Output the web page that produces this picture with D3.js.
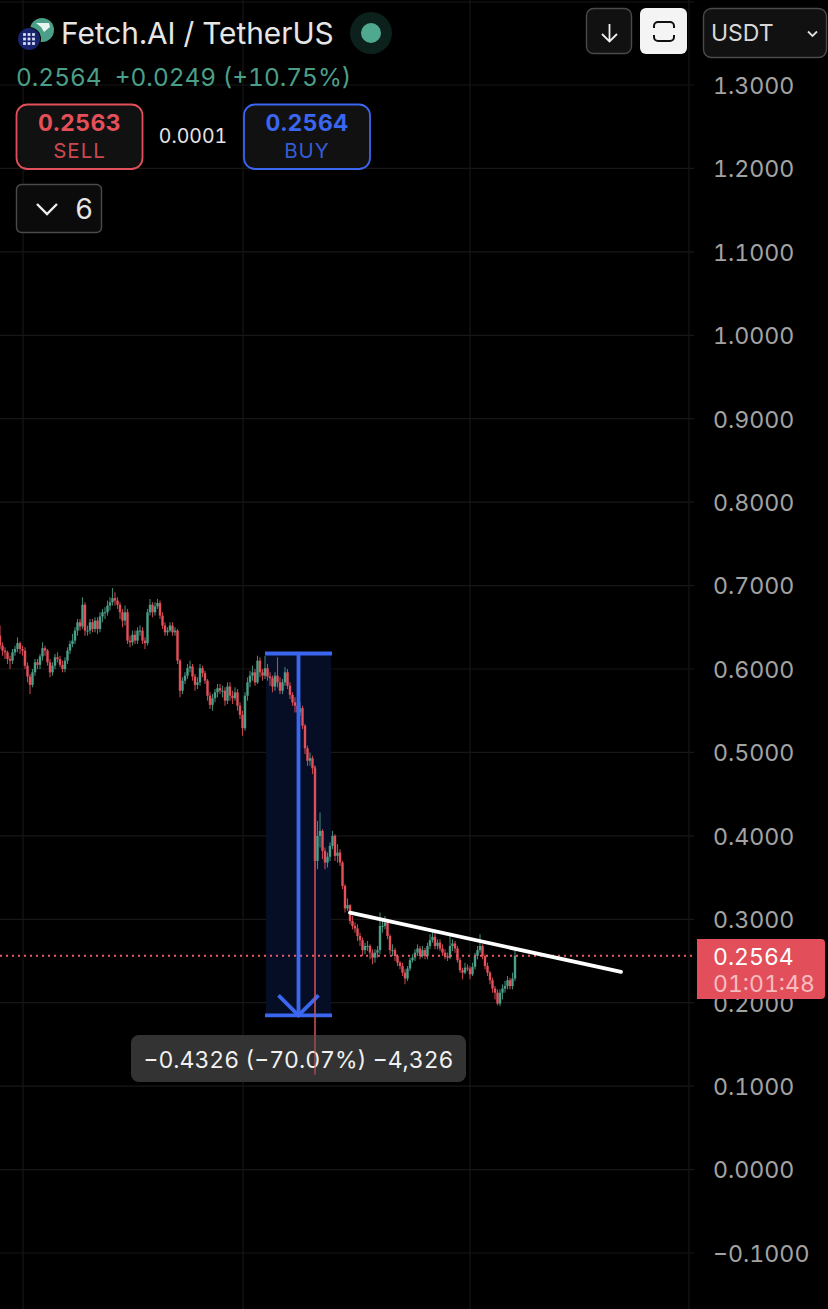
<!DOCTYPE html>
<html>
<head>
<meta charset="utf-8">
<script src="https://cdn.jsdelivr.net/npm/d3@7"></script>
<style>
  html, body { margin: 0; padding: 0; background: #000; }
  svg { display: block; }
  text { font-family: Inter, "Noto Sans", sans-serif; font-variant-numeric: tabular-nums; }
  .axis .domain, .axis line { display: none; }
</style>
</head>
<body>
<div id="chart"></div>
<script>
const opens = [
  .640,.628,.622,.620,.612,.610,.620,.624,.631,.624,
  .622,.604,.591,.581,.596,.608,.605,.615,.625,.622,
  .608,.596,.604,.614,.612,.605,.600,.610,.622,.630,
  .634,.646,.656,.651,.677,.646,.646,.656,.648,.658,
  .648,.663,.668,.668,.676,.680,.685,.682,.677,.668,
  .658,.668,.634,.632,.641,.634,.646,.646,.634,.631,
  .668,.677,.668,.675,.679,.664,.652,.644,.646,.652,
  .644,.646,.610,.574,.586,.592,.601,.603,.591,.581,
  .584,.601,.595,.586,.568,.557,.565,.572,.577,.574,
  .574,.562,.579,.568,.565,.572,.556,.545,.529,.568,
  .584,.592,.596,.584,.610,.596,.592,.601,.591,.589,
  .579,.592,.584,.574,.584,.596,.580,.569,.560,.556,
  .548,.553,.532,.505,.490,.493,.481,.370,.400,.406,
  .382,.368,.375,.388,.400,.376,.380,.368,.340,.313,
  .317,.298,.292,.289,.280,.275,.263,.268,.268,.260,
  .254,.260,.263,.292,.292,.296,.280,.263,.263,.256,
  .248,.244,.236,.229,.241,.251,.254,.260,.265,.256,
  .263,.256,.268,.275,.279,.268,.272,.265,.260,.256,
  .254,.268,.271,.265,.251,.239,.236,.242,.241,.234,
  .243,.256,.263,.268,.256,.244,.236,.227,.217,.212,
  .199,.212,.217,.220,.227,.220,.229
];
const highs = [
  .652,.632,.626,.622,.616,.624,.628,.638,.633,.628,
  .626,.608,.594,.600,.612,.612,.618,.632,.628,.624,
  .612,.608,.618,.620,.616,.610,.614,.626,.634,.642,
  .650,.660,.660,.686,.680,.652,.660,.660,.662,.662,
  .668,.672,.674,.682,.686,.697,.692,.686,.680,.672,
  .676,.672,.640,.646,.646,.650,.652,.650,.638,.672,
  .684,.680,.680,.684,.682,.668,.656,.650,.656,.656,
  .650,.648,.612,.590,.596,.606,.610,.606,.594,.590,
  .606,.604,.598,.588,.572,.570,.576,.582,.582,.580,
  .578,.584,.584,.574,.578,.576,.560,.550,.572,.590,
  .598,.604,.600,.616,.614,.600,.616,.606,.596,.592,
  .596,.614,.590,.588,.602,.600,.584,.572,.566,.560,
  .560,.556,.534,.508,.500,.496,.484,.418,.428,.408,
  .386,.380,.392,.406,.402,.390,.384,.370,.342,.325,
  .318,.304,.296,.294,.284,.278,.272,.274,.270,.264,
  .264,.268,.308,.300,.304,.298,.282,.270,.266,.258,
  .250,.248,.240,.244,.254,.258,.264,.270,.268,.268,
  .266,.272,.282,.286,.284,.276,.276,.270,.264,.260,
  .284,.276,.274,.268,.254,.242,.248,.246,.244,.248,
  .260,.268,.282,.270,.258,.248,.238,.230,.220,.216,
  .216,.222,.226,.232,.230,.236,.266
];
const lows = [
  .624,.616,.612,.606,.600,.606,.616,.620,.618,.616,
  .600,.584,.570,.578,.592,.600,.600,.610,.616,.604,
  .590,.592,.600,.608,.602,.596,.596,.606,.618,.626,
  .630,.640,.646,.648,.640,.640,.642,.644,.644,.642,
  .644,.656,.660,.664,.670,.676,.676,.672,.660,.650,
  .652,.630,.626,.628,.630,.630,.640,.630,.624,.628,
  .664,.662,.664,.672,.660,.648,.640,.640,.644,.640,
  .640,.606,.566,.570,.582,.588,.596,.586,.574,.576,
  .580,.590,.582,.562,.552,.550,.560,.566,.570,.566,
  .556,.558,.562,.558,.562,.550,.540,.520,.526,.562,
  .578,.586,.580,.582,.590,.586,.588,.586,.580,.572,
  .574,.578,.570,.570,.580,.576,.564,.556,.548,.542,
  .544,.528,.498,.484,.484,.474,.114,.360,.386,.372,
  .360,.362,.370,.384,.370,.368,.364,.336,.308,.310,
  .294,.288,.284,.274,.268,.256,.258,.262,.252,.246,
  .248,.254,.258,.284,.288,.276,.258,.256,.250,.244,
  .240,.232,.222,.226,.238,.248,.250,.256,.252,.254,
  .252,.252,.264,.272,.264,.264,.262,.256,.252,.250,
  .252,.262,.260,.248,.236,.228,.234,.238,.228,.232,
  .240,.252,.260,.252,.240,.232,.222,.212,.204,.197,
  .196,.204,.212,.216,.216,.216,.226
];
const closes = [
  .628,.622,.620,.612,.610,.620,.624,.631,.624,.622,
  .604,.591,.581,.596,.608,.605,.615,.625,.622,.608,
  .596,.604,.614,.612,.605,.600,.610,.622,.630,.634,
  .646,.656,.651,.677,.646,.646,.656,.648,.658,.648,
  .663,.668,.668,.676,.680,.685,.682,.677,.668,.658,
  .668,.634,.632,.641,.634,.646,.646,.634,.631,.668,
  .677,.668,.675,.679,.664,.652,.644,.646,.652,.644,
  .646,.610,.574,.586,.592,.601,.603,.591,.581,.584,
  .601,.595,.586,.568,.557,.565,.572,.577,.574,.574,
  .562,.579,.568,.565,.572,.556,.545,.529,.568,.584,
  .592,.596,.584,.610,.596,.592,.601,.591,.589,.579,
  .592,.584,.574,.584,.596,.580,.569,.560,.556,.548,
  .553,.532,.505,.490,.493,.481,.370,.400,.406,.382,
  .368,.375,.388,.400,.376,.380,.368,.340,.313,.317,
  .298,.292,.289,.280,.275,.263,.268,.268,.260,.254,
  .260,.263,.292,.292,.296,.280,.263,.263,.256,.248,
  .244,.236,.229,.241,.251,.254,.260,.265,.256,.263,
  .256,.268,.275,.279,.268,.272,.265,.260,.256,.254,
  .268,.271,.265,.251,.239,.236,.242,.241,.234,.243,
  .256,.263,.268,.256,.244,.236,.227,.217,.212,.199,
  .212,.217,.220,.227,.220,.229,.2564
];

const priceTicks = [1.3, 1.2, 1.1, 1.0, 0.9, 0.8, 0.7, 0.6, 0.5, 0.4, 0.3, 0.2, 0.1, 0.0, -0.1];
const timeGrid = [9.2, 97.2, 188];
const lastPrice = 0.2564;
const measureFrom = 0.6174;
const measureTo = 0.1848;
const measureBars = [106.4, 132.4];
const trendBars = [140, 248.4];
const trendPrices = [0.3079, 0.2370];

const red = "#e4505a", green = "#4b9e87", blue = "#3a66f0";

const svg = d3.select("#chart").append("svg")
  .attr("width", 828)
  .attr("height", 1309)
  .style("background", "#000");

const x = d3.scaleLinear().domain([0, 206]).range([0, 515]);
const y = d3.scaleLinear().domain([1.3, -0.1]).range([85, 1253]);

// ---- grid ----
const grid = svg.append("g").attr("stroke", "#171717").attr("stroke-width", 1.2);
grid.selectAll(".h").data(priceTicks).enter().append("line")
  .attr("x1", 0).attr("x2", 694)
  .attr("y1", d => y(d)).attr("y2", d => y(d));
grid.selectAll(".v").data(timeGrid).enter().append("line")
  .attr("x1", d => x(d)).attr("x2", d => x(d))
  .attr("y1", 0).attr("y2", 1309);
grid.append("line").attr("x1", 0).attr("x2", 694).attr("y1", 2).attr("y2", 2);
grid.append("line").attr("x1", 689).attr("x2", 689).attr("y1", 0).attr("y2", 1309);

// ---- measure box behind the candles ----
svg.append("rect")
  .attr("x", x(measureBars[0]))
  .attr("y", y(measureFrom))
  .attr("width", x(measureBars[1]) - x(measureBars[0]))
  .attr("height", y(measureTo) - y(measureFrom))
  .attr("fill", "#050e24");

// ---- candles ----
const bars = closes.map((c, i) => ({ i, o: opens[i], h: highs[i], l: lows[i], c }));
function drawCandles(group, data) {
  const color = d => d.c >= d.o ? green : red;
  group.selectAll(".wick").data(data).enter().append("line")
    .attr("x1", d => x(d.i)).attr("x2", d => x(d.i))
    .attr("y1", d => y(d.h)).attr("y2", d => y(d.l))
    .attr("stroke", color)
    .attr("stroke-opacity", 0.85)
    .attr("stroke-width", 1.1);
  group.selectAll(".body").data(data).enter().append("rect")
    .attr("x", d => x(d.i) - 1.2)
    .attr("y", d => Math.min(y(d.o), y(d.c)))
    .attr("width", 2.4)
    .attr("height", d => Math.max(1, Math.abs(y(d.o) - y(d.c))))
    .attr("fill", color);
}
drawCandles(svg.append("g").style("filter", "blur(0.35px)"), bars);

// ---- last price line ----
svg.append("line")
  .attr("x1", 0).attr("x2", 695)
  .attr("y1", y(lastPrice)).attr("y2", y(lastPrice))
  .attr("stroke", "#ee5a64")
  .attr("stroke-width", 2)
  .attr("stroke-dasharray", "2 4");

// ---- measure lines ----
const mx = d3.mean(measureBars);
const mg = svg.append("g").attr("stroke", blue).attr("stroke-width", 3.8).attr("fill", "none");
mg.append("line").attr("x1", x(measureBars[0]) - 1).attr("x2", x(measureBars[1]) + 1)
  .attr("y1", y(measureFrom) - 1).attr("y2", y(measureFrom) - 1);
mg.append("line").attr("x1", x(measureBars[0]) - 1).attr("x2", x(measureBars[1]) + 1)
  .attr("y1", y(measureTo)).attr("y2", y(measureTo));
mg.append("line").attr("x1", x(mx)).attr("x2", x(mx))
  .attr("y1", y(measureFrom)).attr("y2", y(measureTo));
mg.append("path")
  .attr("d", `M${x(mx) - 20},${y(measureTo) - 20}L${x(mx)},${y(measureTo)}L${x(mx) + 20},${y(measureTo) - 20}`);

// ---- trend line ----
svg.append("line")
  .attr("x1", x(trendBars[0])).attr("x2", x(trendBars[1]))
  .attr("y1", y(trendPrices[0])).attr("y2", y(trendPrices[1]))
  .attr("stroke", "#fff")
  .attr("stroke-width", 3.8)
  .attr("stroke-linecap", "round");

// ---- measure label ----
svg.append("rect")
  .attr("x", 131).attr("y", 1035).attr("width", 335).attr("height", 47).attr("rx", 8)
  .attr("fill", "#333");
svg.append("text")
  .attr("x", x(mx)).attr("y", 1067.5)
  .attr("text-anchor", "middle")
  .attr("font-size", 23)
  .attr("fill", "#f0f0f0")
  .text("\u22120.4326 (\u221270.07%) \u22124,326");

// the long wick sits over the label
const spike = bars.filter(d => d.l === d3.min(lows));
svg.append("g").selectAll("line").data(spike).enter().append("line")
  .attr("x1", d => x(d.i)).attr("x2", d => x(d.i))
  .attr("y1", d => y(d.h)).attr("y2", d => y(d.l))
  .attr("stroke", "#d0525c")
  .attr("stroke-width", 1.1);

// ---- price axis ----
const yAxis = d3.axisRight(y)
  .tickValues(priceTicks)
  .tickSize(0)
  .tickPadding(0)
  .tickFormat(d => d < 0 ? "\u2212" + Math.abs(d).toFixed(4) : d.toFixed(4));
const axisG = svg.append("g")
  .attr("class", "axis")
  .attr("transform", "translate(713,0)")
  .call(yAxis);
axisG.selectAll("text")
  .attr("text-anchor", "start")
  .attr("x", 0)
  .attr("dy", "0.36em")
  .style("font-family", "Inter, sans-serif")
  .style("font-size", "23.2px")
  .style("fill", "#a3a3a3");

// ---- last price tag ----
svg.append("path")
  .attr("d", "M697,939H821a4,4 0 0 1 4,4V995a4,4 0 0 1 -4,4H697Z")
  .attr("fill", "#e24f5a");
svg.append("text").attr("x", 713).attr("y", 965).attr("font-size", 23).attr("fill", "#fff").text("0.2564");
svg.append("text").attr("x", 713).attr("y", 992).attr("font-size", 23).attr("fill", "#f7bcc0").text("01:01:48");

// ---- header ----
const head = svg.append("g");
head.append("circle").attr("cx", 42).attr("cy", 30).attr("r", 12).attr("fill", "#4b9e87");
head.append("path").attr("d", "M36,23H49L50,27L44,32L41,27Z").attr("fill", "#e8f4f0");
head.append("circle").attr("cx", 29).attr("cy", 39).attr("r", 12).attr("fill", "#000");
head.append("circle").attr("cx", 29).attr("cy", 39).attr("r", 11).attr("fill", "#18246e");
head.selectAll(".dot").data(d3.cross([24.5, 29, 33.5], [34.5, 39, 43.5])).enter().append("rect")
  .attr("x", d => d[0] - 1.4).attr("y", d => d[1] - 1.4)
  .attr("width", 2.8).attr("height", 2.8)
  .attr("fill", "#d8dcf5");
head.append("text").attr("x", 61).attr("y", 44).attr("font-size", 29.8).attr("fill", "#e6e6e6").text("Fetch.AI / TetherUS");
head.append("circle").attr("cx", 371).attr("cy", 33).attr("r", 21).attr("fill", "#0d211c");
head.append("circle").attr("cx", 371).attr("cy", 33).attr("r", 10).attr("fill", "#4fa98f");
head.append("text").attr("x", 16).attr("y", 86).attr("font-size", 24.4).attr("fill", green)
  .attr("xml:space", "preserve").text("0.2564  +0.0249 (+10.75%)");

// ---- sell / buy ----
function tradeBox(bx, w, color, price, label) {
  const g = svg.append("g");
  g.append("rect").attr("x", bx).attr("y", 104.5).attr("width", w).attr("height", 64.5).attr("rx", 11)
    .attr("fill", "#111").attr("stroke", color).attr("stroke-width", 1.8);
  g.append("text").attr("x", bx + w / 2).attr("y", 131).attr("text-anchor", "middle")
    .attr("font-size", 23).attr("font-weight", 700).attr("letter-spacing", 0.4).attr("fill", color).text(price);
  g.append("text").attr("x", bx + w / 2).attr("y", 158).attr("text-anchor", "middle")
    .attr("font-size", 20.5).attr("letter-spacing", 1).attr("fill", color).attr("fill-opacity", 0.9).text(label);
}
tradeBox(16.5, 126, "#e4505a", "0.2563", "SELL");
tradeBox(244, 126, blue, "0.2564", "BUY");
svg.append("text").attr("x", 193).attr("y", 143).attr("text-anchor", "middle")
  .attr("font-size", 19.5).attr("fill", "#e6e6e6").text("0.0001");

// ---- collapsed indicators ----
svg.append("rect").attr("x", 16.5).attr("y", 184.5).attr("width", 85).attr("height", 48).attr("rx", 5)
  .attr("fill", "#0b0b0b").attr("stroke", "#4a4a4a").attr("stroke-width", 1.4);
svg.append("path").attr("d", "M37,204L47,214L57,204").attr("fill", "none")
  .attr("stroke", "#eee").attr("stroke-width", 2.4);
svg.append("text").attr("x", 84).attr("y", 219).attr("text-anchor", "middle")
  .attr("font-size", 28).attr("fill", "#e6e6e6").text("6");

// ---- top right buttons ----
svg.append("rect").attr("x", 586.5).attr("y", 8.5).attr("width", 45).attr("height", 45).attr("rx", 7)
  .attr("fill", "#111").attr("stroke", "#4a4a4a").attr("stroke-width", 1.4);
svg.append("path").attr("d", "M609.5,24V41M602,34L609.5,41.5L617,34").attr("fill", "none")
  .attr("stroke", "#eee").attr("stroke-width", 1.8);
svg.append("rect").attr("x", 640).attr("y", 8).attr("width", 47).attr("height", 46).attr("rx", 6).attr("fill", "#f4f4f4");
svg.append("path")
  .attr("d", "M654,28V26a4,4 0 0 1 4,-4H670a4,4 0 0 1 4,4V28M654,35V37a4,4 0 0 0 4,4H670a4,4 0 0 0 4,-4V35")
  .attr("fill", "none").attr("stroke", "#111").attr("stroke-width", 2);
svg.append("rect").attr("x", 703.5).attr("y", 8.5).attr("width", 123).attr("height", 49).attr("rx", 8)
  .attr("fill", "#111").attr("stroke", "#4a4a4a").attr("stroke-width", 1.4);
svg.append("text").attr("x", 711).attr("y", 41).attr("font-size", 23).attr("fill", "#d8d8d8").text("USDT");
svg.append("path").attr("d", "M808,31.5L812.5,36L817,31.5").attr("fill", "none")
  .attr("stroke", "#ddd").attr("stroke-width", 1.8);
</script>
</body>
</html>
